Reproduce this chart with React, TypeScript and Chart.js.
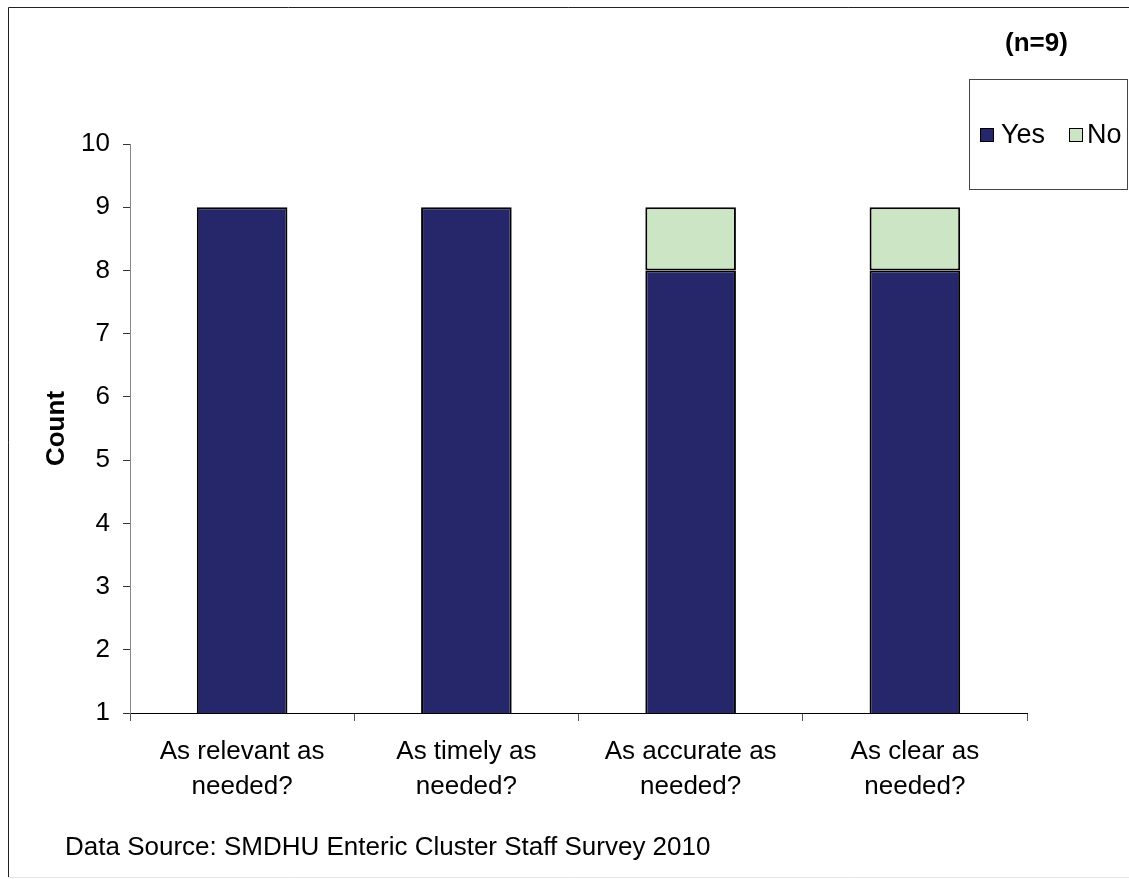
import React, { useEffect, useRef } from "react";
import { Chart, registerables } from "chart.js";

Chart.register(...registerables);

const categories: string[][] = [
  ["As relevant as", "needed?"],
  ["As timely as", "needed?"],
  ["As accurate as", "needed?"],
  ["As clear as", "needed?"],
];
const yesCounts = [9, 9, 8, 8];
const noCounts = [0, 0, 1, 1];
const seriesNames = ["Yes", "No"];
const seriesColors = ["#26266B", "#CCE5C4"];
const yTicks = { min: 1, max: 10, step: 1 };
const sampleNote = "(n=9)";
const sourceNote = "Data Source: SMDHU Enteric Cluster Staff Survey 2010";

const FONT = "'Liberation Sans', Arial, sans-serif";

// Frame, sample-size note, boxed legend and source line drawn on the canvas
const decorations = {
  id: "decorations",
  afterDraw(chart: any) {
    const ctx = chart.ctx as CanvasRenderingContext2D;
    ctx.save();
    // outer frame
    ctx.strokeStyle = "#222";
    ctx.lineWidth = 1;
    ctx.beginPath();
    ctx.moveTo(8.5, 877);
    ctx.lineTo(8.5, 7.5);
    ctx.lineTo(1129, 7.5);
    ctx.stroke();
    ctx.strokeStyle = "#e6e6e6";
    ctx.beginPath();
    ctx.moveTo(8, 877.5);
    ctx.lineTo(1129, 877.5);
    ctx.stroke();

    // sample size
    ctx.fillStyle = "#000";
    ctx.font = `bold 26px ${FONT}`;
    ctx.textAlign = "left";
    ctx.textBaseline = "alphabetic";
    ctx.fillText(sampleNote, 1005, 51);

    // legend box
    ctx.strokeStyle = "#444";
    ctx.strokeRect(969.5, 79.5, 158, 110);
    const items = chart.data.datasets.map((d: any) => ({ label: d.label, color: d.backgroundColor }));
    const swatchX = [980, 1069];
    const textX = [1001, 1087];
    ctx.font = `27px ${FONT}`;
    items.forEach((it: any, i: number) => {
      const x = swatchX[i];
      ctx.fillStyle = it.color;
      ctx.fillRect(x, 128, 14, 14);
      ctx.strokeStyle = "#000";
      ctx.strokeRect(x + 0.5, 128.5, 13, 13);
      ctx.fillStyle = "#000";
      ctx.fillText(it.label, textX[i], 143);
    });

    // source line
    ctx.font = `26px ${FONT}`;
    ctx.fillText(sourceNote, 65, 855);
    ctx.restore();
  },
};

export default function App() {
  const ref = useRef<HTMLCanvasElement>(null);
  useEffect(() => {
    if (!ref.current) return;
    const chart = new Chart(ref.current, {
      type: "bar",
      data: {
        labels: categories,
        datasets: [
          {
            label: seriesNames[0],
            data: yesCounts,
            backgroundColor: seriesColors[0],
            borderColor: "#000",
            borderWidth: (c: any) => (c.raw ? 2 : 0),
            borderSkipped: false,
          },
          {
            label: seriesNames[1],
            data: noCounts,
            backgroundColor: seriesColors[1],
            borderColor: "#000",
            borderWidth: (c: any) => (c.raw ? 2 : 0),
            borderSkipped: false,
          },
        ],
      },
      options: {
        animation: false,
        responsive: false,
        devicePixelRatio: 1,
        layout: { padding: { top: 144, right: 102, bottom: 0, left: 0 } },
        datasets: { bar: { categoryPercentage: 1, barPercentage: 0.404 } },
        plugins: {
          legend: { display: false },
          tooltip: { enabled: false },
          title: { display: false },
        },
        scales: {
          x: {
            stacked: true,
            afterFit: (s: any) => {
              s.height = 166;
            },
            grid: {
              drawOnChartArea: false,
              drawTicks: true,
              tickLength: 8,
              color: "#555",
              offset: true,
            },
            border: { color: "#000", width: 1 },
            ticks: {
              color: "#000",
              padding: 14,
              maxRotation: 0,
              autoSkip: false,
              font: { family: FONT, size: 26, lineHeight: 1.32 },
            },
          },
          y: {
            stacked: true,
            min: yTicks.min,
            max: yTicks.max,
            afterFit: (s: any) => {
              s.width = 130;
            },
            grid: {
              drawOnChartArea: false,
              drawTicks: true,
              tickLength: 7,
              color: "#333",
            },
            border: { color: "#888", width: 1 },
            ticks: {
              stepSize: yTicks.step,
              color: "#000",
              padding: 13,
              font: { family: FONT, size: 26 },
            },
            title: {
              display: true,
              text: "Count",
              color: "#000",
              font: { family: FONT, size: 26, weight: "bold" },
              padding: { top: 41, bottom: 0 },
            },
          },
        },
      },
      plugins: [decorations],
    });
    return () => chart.destroy();
  }, []);
  return (
    <div style={{ position: "fixed", left: 0, top: 0, width: 1129, height: 879, background: "#fff" }}>
      <canvas ref={ref} width={1129} height={879} style={{ display: "block" }} />
    </div>
  );
}
